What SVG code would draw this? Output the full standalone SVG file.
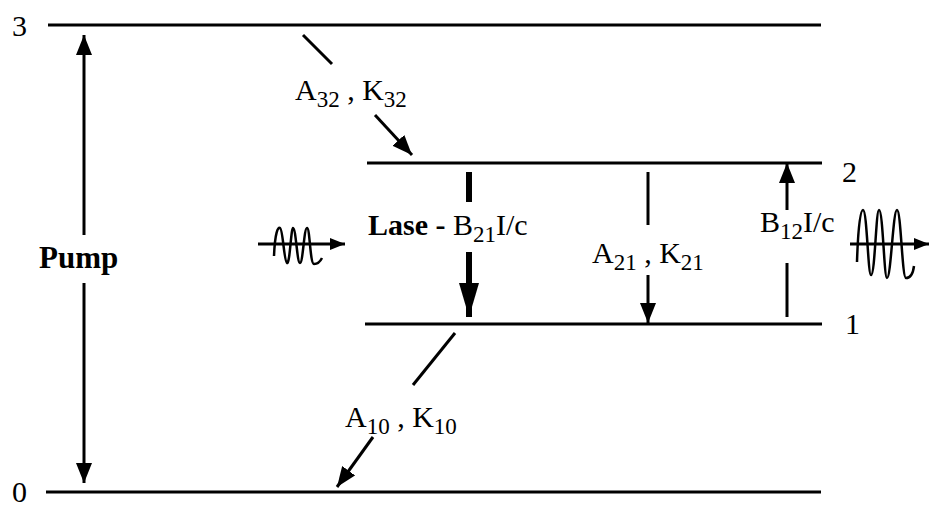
<svg xmlns="http://www.w3.org/2000/svg" width="930" height="509" viewBox="0 0 930 509">
<defs>
<style>
.lvl{stroke:#000;stroke-width:3;fill:none}
.c{stroke:#000;stroke-width:3;fill:none}
.thick{stroke:#000;stroke-width:6;fill:none}
.wave{stroke:#000;stroke-width:2.5;fill:none}
text{font-family:"Liberation Serif","Times New Roman",serif;font-size:30px;fill:#000}
.b{font-weight:bold}
.sub{font-size:23px}
</style>
<marker id="ah" markerUnits="userSpaceOnUse" markerWidth="20" markerHeight="16" refX="20" refY="8" orient="auto">
<path d="M0,0 L20,8 L0,16 z" fill="#000"/>
</marker>
<marker id="ahs" markerUnits="userSpaceOnUse" markerWidth="15" markerHeight="12" refX="15" refY="6" orient="auto">
<path d="M0,0 L15,6 L0,12 z" fill="#000"/>
</marker>
<marker id="ahb" markerUnits="userSpaceOnUse" markerWidth="34" markerHeight="20" refX="34" refY="10" orient="auto">
<path d="M0,0 L34,10 L0,20 z" fill="#000"/>
</marker>
</defs>

<g id="level3"><line class="lvl" x1="48" y1="25" x2="821" y2="25"/><text x="12" y="36">3</text></g>
<g id="level2"><line class="lvl" x1="367" y1="163" x2="822" y2="163"/><text x="842" y="182">2</text></g>
<g id="level1"><line class="lvl" x1="365" y1="324" x2="822" y2="324"/><text x="845" y="334">1</text></g>
<g id="level0"><line class="lvl" x1="46" y1="492" x2="821" y2="492"/><text x="12" y="502">0</text></g>

<g id="labels">
<text class="b" x="39" y="268" style="font-size:31px">Pump</text>
<text x="295" y="100">A<tspan class="sub" dy="7">32</tspan><tspan dy="-7"> , K</tspan><tspan class="sub" dy="7">32</tspan></text>
<text x="368" y="235"><tspan class="b">Lase - </tspan>B<tspan class="sub" dy="7">21</tspan><tspan dy="-7">I/c</tspan></text>
<text x="592" y="263">A<tspan class="sub" dy="7">21</tspan><tspan dy="-7"> , K</tspan><tspan class="sub" dy="7">21</tspan></text>
<text x="760" y="232">B<tspan class="sub" dy="7">12</tspan><tspan dy="-7">I/c</tspan></text>
<text x="345" y="427">A<tspan class="sub" dy="7">10</tspan><tspan dy="-7"> , K</tspan><tspan class="sub" dy="7">10</tspan></text>
</g>

<g id="photon-in">
<path class="wave" d="M274,256 C275,232 278,227 280,228 C283,229 284,262 287,263 C290,264 291,228 293,228 C296,228 297,263 300,263 C303,263 304,228 307,228 C310,228 310,264 314,264 C318,264 320,262 322,258"/>
</g>
<g id="photon-out">
<path class="wave" d="M857,262 C858,230 860,210 863,210 C867,210 868,275 871,275 C875,275 876,210 879,210 C883,210 884,278 887,278 C891,278 893,210 897,210 C901,210 902,278 906,278 C911,278 913,274 914,266"/>
</g>

<g id="connectors">
<line class="c" x1="84" y1="235" x2="84" y2="35" marker-end="url(#ah)"/>
<line class="c" x1="84" y1="283" x2="84" y2="483" marker-end="url(#ah)"/>
<line class="c" x1="303" y1="35" x2="332" y2="64"/>
<line class="c" x1="375" y1="115" x2="412" y2="155" marker-end="url(#ah)"/>
<line class="thick" x1="469" y1="172" x2="469" y2="202"/>
<line class="thick" x1="469" y1="252" x2="469" y2="317" marker-end="url(#ahb)"/>
<line class="c" x1="648" y1="172" x2="648" y2="225"/>
<line class="c" x1="648" y1="275" x2="648" y2="323" marker-end="url(#ah)"/>
<line class="c" x1="787" y1="317" x2="787" y2="263"/>
<line class="c" x1="787" y1="210" x2="787" y2="163" marker-end="url(#ah)"/>
<line class="c" x1="455" y1="333" x2="413" y2="385"/>
<line class="c" x1="373" y1="437" x2="337" y2="487" marker-end="url(#ah)"/>
<line class="c" x1="258" y1="244" x2="345" y2="244" marker-end="url(#ahs)"/>
<line class="c" x1="850" y1="244" x2="929" y2="244" marker-end="url(#ahs)"/>
</g>
</svg>
